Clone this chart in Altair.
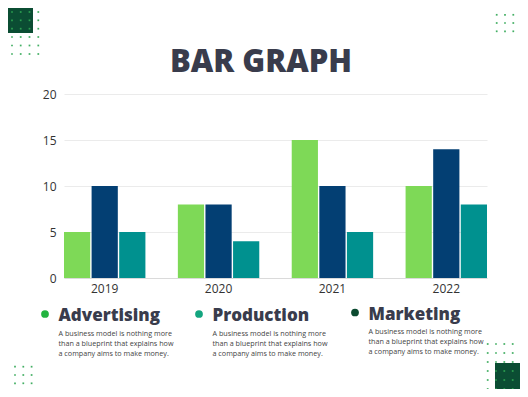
import altair as alt
import pandas as pd

# ---- data ----
years = ["2019", "2020", "2021", "2022"]
series = ["Advertising", "Production", "Marketing"]
advertising = [5, 8, 15, 10]
production = [10, 8, 10, 14]
marketing = [5, 4, 5, 8]
bar_colors = ["#7ED957", "#033F73", "#00918F"]
bullet_colors = ["#22B33F", "#13A57F", "#0B4A30"]
desc = "A business model is nothing more\nthan a blueprint that explains how\na company aims to make money."
title_text = "BAR GRAPH"

rows = []
for i, y in enumerate(years):
    for s, vals in zip(series, [advertising, production, marketing]):
        rows.append({"year": y, "series": s, "value": vals[i]})
df = pd.DataFrame(rows)

# plot area origin in page coords
OX, OY = 64, 94
PW, PH = 423, 184

def rx(px):
    return px - OX

def ry(py):
    return py - OY

FONT = "Open Sans"
DARK = "#393C4C"

bars = alt.Chart(df).mark_bar().encode(
    x=alt.X("year:N", sort=years, title=None,
            scale=alt.Scale(paddingInner=0.285, paddingOuter=0),
            axis=alt.Axis(labelAngle=0, ticks=False, domain=True, domainColor="#DADADA",
                          labelFontSize=12, labelColor="#333333", labelFont=FONT,
                          labelPadding=5, grid=False)),
    xOffset=alt.XOffset("series:N", sort=series, scale=alt.Scale(paddingInner=0.05)),
    y=alt.Y("value:Q", title=None, scale=alt.Scale(domain=[0, 20]),
            axis=alt.Axis(values=[0, 5, 10, 15, 20], ticks=False, domain=False,
                          gridColor="#EBEBEB", labelFontSize=12, labelColor="#333333",
                          labelFont=FONT, labelPadding=8)),
    color=alt.Color("series:N", sort=series,
                    scale=alt.Scale(domain=series, range=bar_colors), legend=None),
)

# title
title_df = pd.DataFrame({"t": [title_text], "px": [rx(261)], "py": [ry(72)]})
title = alt.Chart(title_df).mark_text(font=FONT, fontSize=31, fontWeight=800, color=DARK,
                                      align="center", baseline="alphabetic").encode(
    x=alt.X("px:Q", scale=None, axis=None), y=alt.Y("py:Q", scale=None, axis=None), text="t:N")

# legend items
leg_x = [45, 199, 355]
leg_y = [314, 314, 312.5]
leg_df = pd.DataFrame({
    "name": series,
    "col": bullet_colors,
    "bx": [rx(v) for v in leg_x],
    "by": [ry(v) for v in leg_y],
    "tx": [rx(v + 13.5) for v in leg_x],
    "ty": [ry(v + 7) for v in leg_y],
    "dy": [ry(v + 15.5) for v in leg_y],
    "desc": [desc] * 3,
})
bullets = alt.Chart(leg_df).mark_circle(size=60, opacity=1).encode(
    x=alt.X("bx:Q", scale=None, axis=None), y=alt.Y("by:Q", scale=None, axis=None),
    color=alt.Color("col:N", scale=None))
heads = alt.Chart(leg_df).mark_text(font=FONT, fontSize=17, fontWeight=800, color=DARK,
                                    align="left", baseline="alphabetic").encode(
    x=alt.X("tx:Q", scale=None, axis=None), y=alt.Y("ty:Q", scale=None, axis=None), text="name:N")
descs = alt.Chart(leg_df).mark_text(font=FONT, fontSize=7.2, color="#444444", align="left",
                                    baseline="top", lineBreak="\n", lineHeight=10).encode(
    x=alt.X("tx:Q", scale=None, axis=None), y=alt.Y("dy:Q", scale=None, axis=None), text="desc:N")

# decorations
sq_df = pd.DataFrame({
    "x1": [rx(0), rx(495)], "x2": [rx(33), rx(530)],
    "y1": [ry(0), ry(363)], "y2": [ry(33), ry(400)],
})
squares = alt.Chart(sq_df).mark_rect(color="#0B4D33").encode(
    x=alt.X("x1:Q", scale=None, axis=None), x2="x2:Q",
    y=alt.Y("y1:Q", scale=None, axis=None), y2="y2:Q")

grids = [
    ([12, 20.7, 29.5, 38.3], [12, 20.3, 28.7, 37, 45.5, 54]),
    ([496.7, 505, 513.3, 521.7], [6.5, 14.8, 23, 31.3]),
    ([6.7, 15, 23.3, 31.6], [366.7, 375, 383.3, 391.7]),
    ([487.7, 496, 504.3, 512.7], [344, 353, 362, 371, 380, 389]),
]
dots = []
for xs, ys in grids:
    for gx in xs:
        for gy in ys:
            dots.append({"dx": rx(gx), "dy": ry(gy)})
dot_df = pd.DataFrame(dots)
dot_layer = alt.Chart(dot_df).mark_square(size=3, color="#2FA653", opacity=0.9).encode(
    x=alt.X("dx:Q", scale=None, axis=None), y=alt.Y("dy:Q", scale=None, axis=None))

chart = alt.layer(squares, dot_layer, bars, title, bullets, heads, descs).resolve_scale(
    x="independent", y="independent", color="independent"
).properties(
    width=PW, height=PH,
    autosize=alt.AutoSizeParams(type="none"),
    padding={"left": OX - 8, "top": OY - 8, "right": 520 - (OX + PW), "bottom": 389 - (OY + PH)},
    background="white",
).configure_view(strokeWidth=0)

chart.save("out.html", embed_options={"renderer": "svg", "actions": False})
